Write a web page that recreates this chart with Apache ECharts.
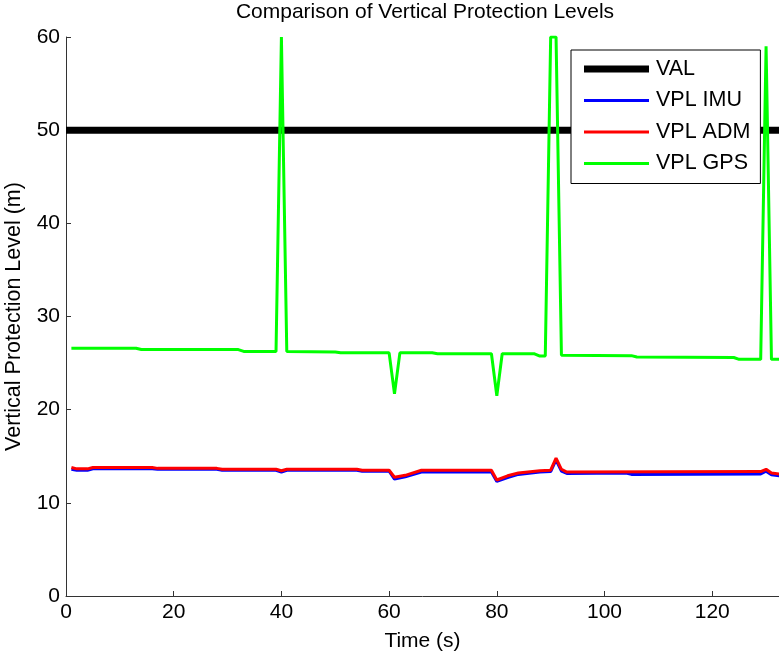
<!DOCTYPE html>
<html>
<head>
<meta charset="utf-8">
<script src="https://cdn.jsdelivr.net/npm/echarts@6/dist/echarts.min.js"></script>
<style>html,body{margin:0;padding:0;background:#fff}#c{width:779px;height:655px}</style>
</head>
<body>
<div id="c"></div>
<script>
// ---- data ----
const seriesNames = ['VAL', 'VPL IMU', 'VPL ADM', 'VPL GPS'];
const xTicks = [0, 20, 40, 60, 80, 100, 120];
const yTicks = [0, 10, 20, 30, 40, 50, 60];

const valTime = [0, 133];
const valLevel = [50, 50];

const imuTime = [1, 2, 4, 5, 16, 17, 28, 29, 39, 40, 41, 54, 55, 60, 61, 63, 66, 79, 80, 82, 84, 88, 90, 91, 92, 93, 104, 105, 129, 130, 131, 133];
const imuVPL  = [13.6, 13.5, 13.5, 13.65, 13.65, 13.6, 13.6, 13.5, 13.5, 13.3, 13.5, 13.5, 13.4, 13.4, 12.55, 12.8, 13.3, 13.3, 12.3, 12.7, 13.05, 13.3, 13.35, 14.6, 13.4, 13.15, 13.2, 13.05, 13.1, 13.4, 13.0, 12.85];

const admTime = [1, 2, 4, 5, 16, 17, 28, 29, 39, 40, 41, 54, 55, 60, 61, 63, 66, 79, 80, 82, 84, 88, 90, 91, 92, 93, 129, 130, 131, 133];
const admVPL  = [13.8, 13.65, 13.65, 13.8, 13.8, 13.7, 13.7, 13.6, 13.6, 13.45, 13.6, 13.6, 13.5, 13.5, 12.75, 12.95, 13.5, 13.5, 12.45, 12.9, 13.2, 13.45, 13.5, 14.8, 13.6, 13.3, 13.35, 13.6, 13.2, 13.05];

const gpsTime = [1, 13, 14, 32, 33, 39, 40, 41, 50, 51, 60, 61, 62, 68, 69, 79, 80, 81, 87, 88, 89, 90, 91, 92, 105, 106, 124, 125, 129, 130, 131, 133];
const gpsVPL  = [26.6, 26.6, 26.45, 26.45, 26.25, 26.25, 60, 26.25, 26.2, 26.1, 26.1, 21.7, 26.1, 26.1, 26.0, 26.0, 21.5, 26.0, 26.0, 25.75, 25.75, 60, 60, 25.85, 25.8, 25.65, 25.6, 25.4, 25.4, 59, 25.4, 25.4];

// ---- chart ----
const FONT = '"Liberation Sans", Arial, Helvetica, sans-serif';
const pair = (t, v) => t.map((x, i) => [x, v[i]]);
const ICON_THICK = 'path://M0,0L65,0L65,7L0,7Z';
const ICON_THIN = 'path://M0,0L0.01,0L0.01,7L0,7Z M0,2L65,2L65,5L0,5Z';

const chart = echarts.init(document.getElementById('c'), null, {renderer: 'canvas'});
chart.setOption({
  backgroundColor: '#fff',
  animation: false,
  title: {
    text: 'Comparison of Vertical Protection Levels',
    left: 420, top: 0, padding: [2, 5, 5, 5], textAlign: 'center',
    textStyle: {fontFamily: FONT, fontSize: 21, fontWeight: 'normal', color: '#000'}
  },
  legend: {
    orient: 'vertical',
    left: 571, top: 50,
    padding: [8, 10, 9, 13],
    backgroundColor: '#fff',
    borderColor: '#000', borderWidth: 1, borderRadius: 0,
    itemWidth: 65, itemHeight: 7, itemGap: 9.5,
    itemStyle: {borderWidth: 0},
    textStyle: {fontFamily: FONT, fontSize: 21.5, color: '#000', lineHeight: 21, padding: [0, 0, 0, 2]},
    data: [
      {name: seriesNames[0], icon: ICON_THICK},
      {name: seriesNames[1], icon: ICON_THIN},
      {name: seriesNames[2], icon: ICON_THIN},
      {name: seriesNames[3], icon: ICON_THIN}
    ]
  },
  grid: {left: 66, right: 0, top: 37, bottom: 59, containLabel: false, outerBoundsMode: 'none'},
  xAxis: {
    type: 'value', min: xTicks[0], max: 132.4, interval: 20,
    name: 'Time (s)', nameLocation: 'middle', nameGap: 35,
    nameTextStyle: {fontFamily: FONT, fontSize: 21, color: '#000'},
    axisLine: {show: true, onZero: false, lineStyle: {color: '#333', width: 1}},
    axisTick: {show: true, inside: true, length: 5, lineStyle: {color: '#333'}},
    axisLabel: {fontFamily: FONT, fontSize: 21, color: '#000', margin: 6, showMaxLabel: false,
      formatter: v => (xTicks.indexOf(v) >= 0 ? String(v) : '')},
    splitLine: {show: false}
  },
  yAxis: {
    type: 'value', min: yTicks[0], max: yTicks[yTicks.length - 1], interval: 10,
    name: 'Vertical Protection Level (m)', nameLocation: 'middle', nameGap: 41, nameRotate: 90,
    nameTextStyle: {fontFamily: FONT, fontSize: 21.5, color: '#000'},
    axisLine: {show: true, onZero: false, lineStyle: {color: '#333', width: 1}},
    axisTick: {show: true, inside: true, length: 5, lineStyle: {color: '#333'}},
    axisLabel: {fontFamily: FONT, fontSize: 21, color: '#000', margin: 6},
    splitLine: {show: false}
  },
  series: [
    {name: seriesNames[0], type: 'line', data: pair(valTime, valLevel), showSymbol: false,
     color: '#000000', lineStyle: {color: '#000000', width: 7}, z: 2},
    {name: seriesNames[1], type: 'line', data: pair(imuTime, imuVPL), showSymbol: false,
     color: '#0000ff', lineStyle: {color: '#0000ff', width: 3}, z: 3},
    {name: seriesNames[2], type: 'line', data: pair(admTime, admVPL), showSymbol: false,
     color: '#ff0000', lineStyle: {color: '#ff0000', width: 3}, z: 4},
    {name: seriesNames[3], type: 'line', data: pair(gpsTime, gpsVPL), showSymbol: false,
     color: '#00ff00', lineStyle: {color: '#00ff00', width: 3}, z: 5}
  ]
});
</script>
</body>
</html>
